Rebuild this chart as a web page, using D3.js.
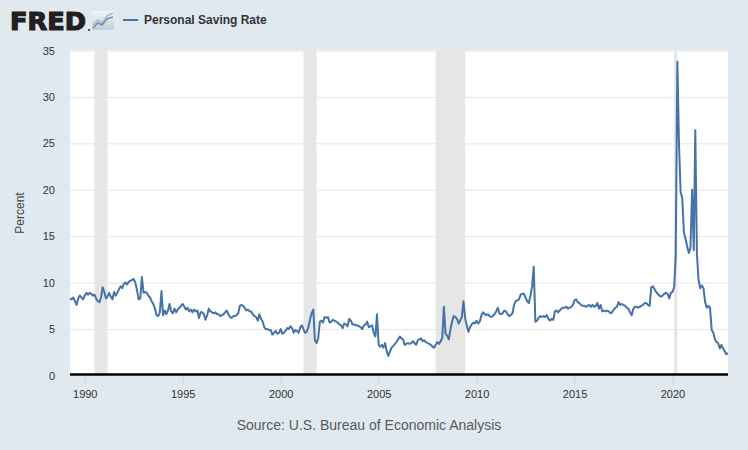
<!DOCTYPE html>
<html>
<head>
  <meta charset="UTF-8">
  <title>FRED - Personal Saving Rate</title>
  <script src="https://d3js.org/d3.v7.min.js"></script>
  <style>
    body { margin: 0; background: #e1e9f0; }
    svg { display: block; font-family: "Liberation Sans", Arial, sans-serif; }
  </style>
</head>
<body>
<svg></svg>
<script>

// Personal saving rate, monthly, Apr 1989 - Nov 2022 (percent)
const startMonth = "1989-04";
const savingRate = [
  8.3, 8.2, 8.4, 8.0, 7.6, 8.3, 8.6, 8.4, 8.2,                     // 1989 (Apr-Dec)
  8.6, 8.9, 8.7, 8.9, 8.8, 8.6, 8.7, 8.3, 8.0, 7.9, 8.4, 9.5,       // 1990
  9.0, 8.3, 8.5, 8.9, 8.5, 8.2, 9.0, 8.6, 8.9, 9.3, 9.6, 9.4,       // 1991
  9.9, 10.0, 9.8, 10.1, 10.2, 10.3, 10.4, 10.0, 9.2, 8.2, 8.3, 10.6, // 1992
  8.9, 9.0, 8.9, 8.6, 8.4, 8.0, 7.7, 7.2, 6.5, 6.4, 6.8, 9.1,       // 1993
  6.5, 7.0, 6.6, 7.0, 7.7, 6.9, 6.7, 7.2, 6.8, 7.1, 7.3, 7.5,       // 1994
  7.7, 7.4, 7.1, 7.3, 6.9, 7.1, 6.8, 7.1, 6.9, 7.0, 6.2, 6.8,       // 1995
  6.8, 6.6, 6.0, 6.5, 7.2, 6.9, 6.8, 6.7, 6.8, 6.6, 6.6, 6.4,       // 1996
  6.5, 6.6, 6.8, 7.0, 6.6, 6.3, 6.2, 6.4, 6.4, 6.5, 6.7, 7.5,       // 1997
  7.6, 7.5, 7.3, 7.0, 7.1, 6.9, 6.9, 6.6, 6.4, 6.3, 5.9, 6.6,       // 1998
  6.1, 5.8, 5.2, 5.0, 5.0, 4.9, 4.9, 4.4, 4.6, 4.8, 4.5, 4.6,       // 1999
  5.0, 4.5, 4.6, 4.8, 5.1, 5.0, 5.3, 5.1, 4.6, 4.9, 4.8, 4.6,       // 2000
  5.2, 5.4, 5.0, 4.6, 4.7, 5.2, 6.0, 6.7, 7.1, 3.8, 3.5, 4.0,       // 2001
  5.8, 5.9, 5.7, 6.3, 6.2, 6.3, 5.7, 5.8, 6.0, 5.9, 5.8, 5.7,       // 2002
  5.5, 5.4, 5.1, 5.6, 5.5, 5.3, 6.1, 5.9, 5.5, 5.5, 5.4, 5.4,       // 2003
  5.3, 5.2, 5.0, 5.4, 5.5, 5.8, 5.2, 5.3, 5.4, 4.6, 4.2, 6.6,       // 2004
  3.3, 3.1, 3.3, 3.0, 3.5, 2.6, 2.1, 2.6, 3.0, 3.2, 3.4, 3.6,       // 2005
  3.9, 4.2, 4.0, 3.9, 3.3, 3.4, 3.5, 3.4, 3.5, 3.7, 3.5, 3.3,       // 2006
  3.8, 3.9, 4.0, 3.7, 3.8, 3.6, 3.5, 3.4, 3.3, 3.1, 3.0, 3.3,       // 2007
  3.6, 3.4, 3.7, 4.0, 7.4, 4.5, 4.3, 3.9, 5.0, 5.8, 6.4, 6.3,       // 2008
  6.1, 5.6, 5.9, 6.3, 8.0, 6.2, 5.4, 4.7, 5.2, 5.5, 5.7, 5.6,       // 2009
  5.9, 5.6, 5.8, 6.5, 6.8, 6.6, 6.5, 6.6, 6.4, 6.3, 6.4, 6.6,       // 2010
  6.9, 7.3, 6.7, 6.6, 6.7, 7.0, 6.9, 6.6, 6.4, 6.5, 6.7, 7.6,       // 2011
  8.0, 8.1, 8.2, 8.7, 8.8, 8.8, 8.4, 8.0, 7.8, 8.6, 9.6, 11.7,      // 2012
  5.8, 5.9, 6.2, 6.4, 6.3, 6.4, 6.3, 6.5, 6.1, 5.9, 6.1, 6.0,       // 2013
  6.9, 7.0, 6.8, 7.0, 7.2, 7.3, 7.3, 7.4, 7.2, 7.3, 7.4, 7.6,       // 2014
  8.1, 8.2, 7.9, 7.8, 7.6, 7.5, 7.5, 7.4, 7.5, 7.6, 7.4, 7.6,       // 2015
  7.4, 7.5, 7.8, 7.2, 7.6, 6.9, 7.0, 6.9, 7.0, 6.9, 6.7, 6.8,       // 2016
  7.1, 7.3, 7.4, 7.9, 7.6, 7.7, 7.6, 7.5, 7.3, 7.2, 6.8, 6.5,       // 2017
  7.2, 7.4, 7.4, 7.3, 7.4, 7.5, 7.6, 7.8, 7.8, 7.6, 7.5, 9.5,       // 2018
  9.6, 9.3, 9.0, 8.8, 8.6, 8.5, 8.6, 8.8, 8.9, 8.8, 8.3, 8.9,       // 2019
  9.0, 9.5, 12.9, 33.8, 24.9, 19.7, 19.1, 15.4, 14.7, 13.9, 13.2, 13.7, // 2020
  20.0, 13.5, 26.4, 13.0, 10.3, 9.4, 9.7, 9.4, 7.9, 7.3, 7.5, 7.3,  // 2021
  4.9, 4.6, 3.9, 3.6, 3.5, 2.9, 3.3, 2.9, 2.6, 2.3, 2.4             // 2022 (Jan-Nov)
];

// NBER recessions (first month, last month)
const recessions = [
  ["1990-07", "1991-03"],
  ["2001-03", "2001-11"],
  ["2007-12", "2009-06"],
  ["2020-02", "2020-04"]
];

const yTicks = [0, 5, 10, 15, 20, 25, 30, 35];
const xTickYears = [1990, 1995, 2000, 2005, 2010, 2015, 2020];
const seriesName = "Personal Saving Rate";
const yLabel = "Percent";
const sourceText = "Source: U.S. Bureau of Economic Analysis";

// Setup

const width = 748;
const height = 450;
const margins = { top: 50.5, right: 20, bottom: 74.5, left: 70 };
const chartWidth = width - margins.left - margins.right;
const chartHeight = height - margins.top - margins.bottom;

const parseMonth = d3.timeParse("%Y-%m");
const start = parseMonth(startMonth);
const data = savingRate.map((v, i) => ({ date: d3.timeMonth.offset(start, i), value: v }));

let svg = d3.select("svg")
            .attr("width", width)
            .attr("height", height);

svg.append("rect")
   .attr("width", width)
   .attr("height", height)
   .attr("fill", "#e1e9f0");

// Scales

const xScale = d3.scaleTime()
                 .domain(d3.extent(data, d => d.date))
                 .range([0, chartWidth]);

const yScale = d3.scaleLinear()
                 .domain([0, 35])
                 .range([chartHeight, 0]);

let chartArea = svg.append("g").attr("transform", `translate(${margins.left}, ${margins.top})`);

chartArea.append("rect")
         .attr("width", chartWidth)
         .attr("height", chartHeight)
         .attr("fill", "white");

// Recession bands

chartArea.selectAll("rect.recession")
         .data(recessions)
         .join("rect")
         .attr("class", "recession")
         .attr("x", d => xScale(parseMonth(d[0])))
         .attr("width", d => xScale(parseMonth(d[1])) - xScale(parseMonth(d[0])))
         .attr("y", 0)
         .attr("height", chartHeight)
         .attr("fill", "#e6e6e6");

// Grid lines

let leftGridlines = d3.axisLeft(yScale).tickValues(yTicks).tickFormat("").tickSize(-chartWidth);
let grid = chartArea.append("g")
                    .attr("class", "y gridlines")
                    .call(leftGridlines);
grid.select(".domain").remove();
grid.selectAll("line").attr("stroke", "#e6e6e6");

// Axes

let leftAxis = d3.axisLeft(yScale).tickValues(yTicks).tickSize(0).tickPadding(15);
let yAxis = chartArea.append("g")
                     .attr("class", "y axis")
                     .call(leftAxis);
yAxis.select(".domain").remove();
yAxis.selectAll("text")
     .attr("font-family", "Liberation Sans, Arial, sans-serif")
     .attr("font-size", 11)
     .attr("fill", "#333");

const xTicks = xTickYears.map(y => new Date(y, 0, 1));
let bottomAxis = d3.axisBottom(xScale).tickValues(xTicks).tickFormat(d3.timeFormat("%Y")).tickSize(9).tickPadding(6);
let xAxis = chartArea.append("g")
                     .attr("class", "x axis")
                     .attr("transform", `translate(0, ${chartHeight})`)
                     .call(bottomAxis);
xAxis.select(".domain").remove();
xAxis.selectAll("line").attr("stroke", "#ccd6eb");
xAxis.selectAll("text")
     .attr("font-family", "Liberation Sans, Arial, sans-serif")
     .attr("font-size", 11)
     .attr("fill", "#333");

chartArea.append("line")
         .attr("x1", 0)
         .attr("x2", chartWidth)
         .attr("y1", chartHeight - 1)
         .attr("y2", chartHeight - 1)
         .attr("stroke", "black")
         .attr("stroke-width", 2.4);

// Line

const line = d3.line()
               .x(d => xScale(d.date))
               .y(d => yScale(d.value));

chartArea.append("path")
         .datum(data)
         .attr("d", line)
         .attr("fill", "none")
         .attr("stroke", "#4572a7")
         .attr("stroke-width", 2)
         .attr("stroke-linejoin", "round");

// Axis title

svg.append("text")
   .attr("transform", `translate(24, ${margins.top + chartHeight / 2}) rotate(-90)`)
   .attr("text-anchor", "middle")
   .attr("font-size", 12)
   .attr("fill", "#444")
   .text(yLabel);

// Header: FRED logo + legend

svg.append("text")
   .attr("x", 10)
   .attr("y", 30)
   .attr("font-family", "DejaVu Sans, sans-serif")
   .attr("font-weight", "bold")
   .attr("font-size", 24)
   .attr("textLength", 76)
   .attr("lengthAdjust", "spacingAndGlyphs")
   .attr("fill", "#231f20")
   .attr("stroke", "#231f20")
   .attr("stroke-width", 1.2)
   .text("FRED");

svg.append("circle")
   .attr("cx", 89)
   .attr("cy", 30)
   .attr("r", 1)
   .attr("fill", "#231f20");

const iconGrad = svg.append("defs").append("linearGradient")
                    .attr("id", "iconGrad")
                    .attr("x1", 0).attr("y1", 0).attr("x2", 0).attr("y2", 1);
iconGrad.append("stop").attr("offset", "0%").attr("stop-color", "#f2f5f8");
iconGrad.append("stop").attr("offset", "100%").attr("stop-color", "#c3ccd5");

let icon = svg.append("g").attr("transform", "translate(92, 11)");
icon.append("rect")
    .attr("width", 22)
    .attr("height", 19)
    .attr("fill", "url(#iconGrad)");
icon.append("polyline")
    .attr("points", "1,14 6,9 10,12 15,5 21,2")
    .attr("fill", "none")
    .attr("stroke", "#a9b7c6")
    .attr("stroke-width", 1.5);
icon.append("polyline")
    .attr("points", "1,17 6,12 10,14 15,8 21,6")
    .attr("fill", "none")
    .attr("stroke", "#6f8fb5")
    .attr("stroke-width", 1.5);

svg.append("line")
   .attr("x1", 123)
   .attr("x2", 138)
   .attr("y1", 20)
   .attr("y2", 20)
   .attr("stroke", "#4572a7")
   .attr("stroke-width", 2);

svg.append("text")
   .attr("x", 144)
   .attr("y", 24)
   .attr("font-size", 12)
   .attr("font-weight", "bold")
   .attr("fill", "#333")
   .text(seriesName);

// Source

svg.append("text")
   .attr("x", 369)
   .attr("y", 430)
   .attr("text-anchor", "middle")
   .attr("font-size", 14)
   .attr("fill", "#595959")
   .text(sourceText);

</script>
</body>
</html>
